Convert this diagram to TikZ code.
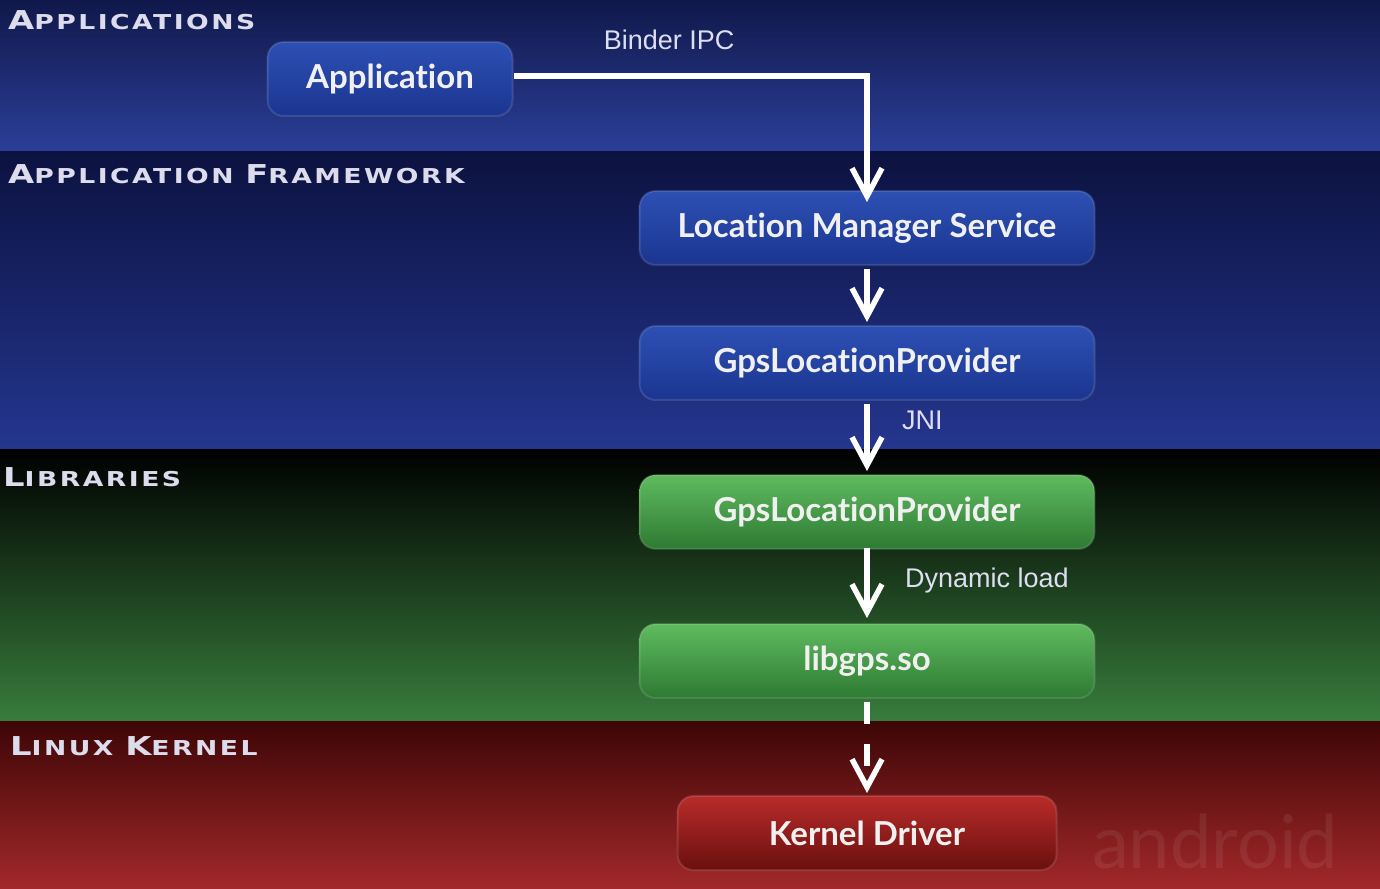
\documentclass[tikz,border=0pt]{standalone}
\usepackage{fontspec}
\usetikzlibrary{positioning, arrows.meta}
\setmainfont{Lato}[Ligatures={NoCommon,NoContextual}]
\newfontfamily\layerfont[FakeStretch=1.3,LetterSpace=12]{DejaVu Sans}
\newfontfamily\labelfont{Liberation Sans}

\definecolor{appTop}{HTML}{10184A}
\definecolor{appBot}{HTML}{2B3F98}
\definecolor{fwTop}{HTML}{0C1240}
\definecolor{fwBot}{HTML}{24368F}
\definecolor{libTop}{HTML}{000000}
\definecolor{libBot}{HTML}{387D3C}
\definecolor{kerTop}{HTML}{3E0606}
\definecolor{kerBot}{HTML}{A2282A}
\definecolor{blueTop}{HTML}{2D50B4}
\definecolor{blueBot}{HTML}{1B3590}
\definecolor{greenTop}{HTML}{5FBB5F}
\definecolor{greenBot}{HTML}{2E7A33}
\definecolor{redTop}{HTML}{B82C2A}
\definecolor{redBot}{HTML}{6A0F0F}
\definecolor{titleGrey}{HTML}{DCDCEC}
\definecolor{labelGrey}{HTML}{DEDEF2}

% small caps look of the layer names
\newcommand{\layername}[2]{{\fontsize{26}{30}\selectfont #1}{\fontsize{20.5}{24}\selectfont #2}}

\tikzset{
  layertitle/.style={anchor=base west, inner sep=0pt, text=titleGrey, font=\layerfont\bfseries},
  block/.style={rounded corners=16pt, minimum width=455pt, minimum height=74pt,
    text=white!94!black, font=\fontsize{33}{36}\selectfont\bfseries, draw=white, draw opacity=0.12, line width=2pt},
  blueblock/.style={block, top color=blueTop, bottom color=blueBot},
  greenblock/.style={block, top color=greenTop, bottom color=greenBot},
  redblock/.style={block, top color=redTop, bottom color=redBot},
  flow/.style={-{Straight Barb[length=28pt,width=30pt]}, white, line width=5.5pt},
  flowlabel/.style={text=labelGrey, font=\labelfont\fontsize{27}{30}\selectfont}
}

\begin{document}
\begin{tikzpicture}[x=1pt, y=1pt, node distance=149pt, on grid]
  \useasboundingbox (0,0) rectangle (1380,888);

  % layers
  \shade[top color=appTop, bottom color=appBot] (0,736) rectangle (1380,888);
  \shade[top color=fwTop, bottom color=fwBot] (0,438) rectangle (1380,736);
  \shade[top color=libTop, bottom color=libBot] (0,166) rectangle (1380,438);
  \shade[top color=kerTop, bottom color=kerBot] (0,0) rectangle (1380,166);

  \node[layertitle] (tapps) at (8,858) {\layername{A}{PPLICATIONS}};
  \node[layertitle] (tframe) at (8,704) {\layername{A}{PPLICATION}\hspace{6pt} \layername{F}{RAMEWORK}};
  \node[layertitle] (tlibs) at (3,401) {\layername{L}{IBRARIES}};
  \node[layertitle] (tkernel) at (10,132) {\layername{L}{INUX}\hspace{6pt} \layername{K}{ERNEL}};

  \node[text=white, opacity=0.07, anchor=west, inner sep=0pt, font=\fontsize{74}{80}\selectfont] (wmark) at (1092,46) {android};

  % blocks
  \node[blueblock, minimum width=245pt] (app) at (390,809) {Application};
  \node[blueblock] (lms) at (867,660) {Location Manager Service};
  \node[blueblock] (gpsjava) [below=135pt of lms] {GpsLocationProvider};
  \node[greenblock] (gpsnative) [below=of gpsjava] {GpsLocationProvider};
  \node[greenblock] (libgps) [below=of gpsnative] {libgps.so};
  \node[redblock, minimum width=379pt] (kdriver) [below=172pt of libgps] {Kernel Driver};

  % calls
  \draw[flow, shorten >=-12pt] ([yshift=3pt]app.east) -| node[flowlabel, pos=0.22, yshift=36pt] (binder) {Binder IPC} (lms.north);
  \draw[flow, shorten <=3pt, shorten >=3pt] (lms.south) -- (gpsjava.north);
  \draw[flow, shorten <=3pt, shorten >=3pt] (gpsjava.south) -- node[flowlabel, pos=0.26, right=29pt] (jni) {JNI} (gpsnative.north);
  \draw[flow, shorten <=-2pt, shorten >=5pt] (gpsnative.south) -- node[flowlabel, pos=0.42, right=32pt, anchor=west] (dynload) {Dynamic load} (libgps.north);
  \draw[flow, dash pattern=on 22pt off 20pt, shorten <=3pt, shorten >=2pt] (libgps.south) -- (kdriver.north);

\end{tikzpicture}
\end{document}
